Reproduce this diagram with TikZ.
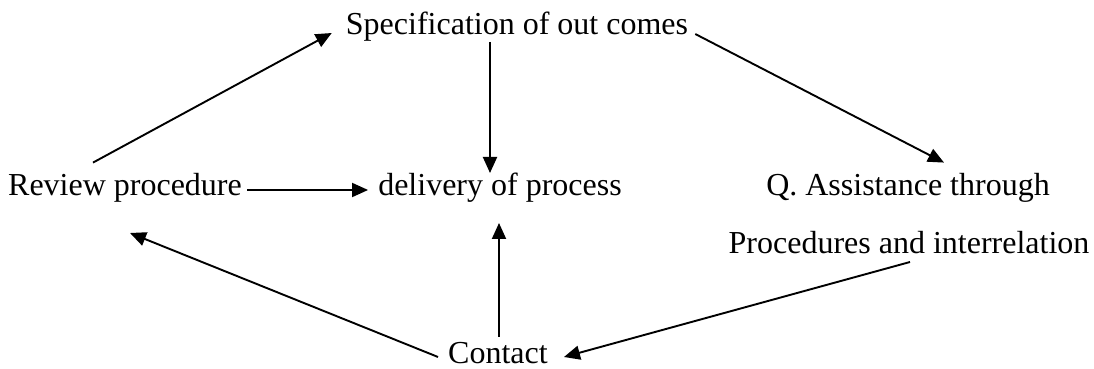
\documentclass[tikz,border=0pt]{standalone}
\usepackage{fontspec}
\setmainfont{Liberation Serif}
\usetikzlibrary{arrows.meta}
\begin{document}
\begin{tikzpicture}[
    x=1pt, y=1pt,
    stage/.style={inner sep=0pt, anchor=base, font=\fontsize{32}{38}\selectfont},
    flow/.style={-{Triangle[length=16pt, width=14pt]}, line width=1.9pt}
]
    \useasboundingbox (0,0) rectangle (1094,369);

    \node[stage] (spec) at (517,334) {Specification of out comes};
    \node[stage] (rev) at (125,173) {Review procedure};
    \node[stage] (deliv) at (500,173) {delivery of process};
    \node[stage] (qa) at (908,173) {Q. Assistance through};
    \node[stage] (proc) at (909,115) {Procedures and interrelation};
    \node[stage] (contact) at (498,5) {Contact};

    \draw[flow] ([shift={(-32,11)}]rev.north) -- ([shift={(-14,2)}]spec.base west);
    \draw[flow] ([shift={(-27,-7)}]spec.base) -- ([shift={(-10,23)}]deliv.base);
    \draw[flow] ([shift={(7,1)}]spec.base east) -- ([shift={(36,11)}]qa.north);
    \draw[flow] ([shift={(5,6)}]rev.base east) -- ([shift={(-10,6)}]deliv.base west);
    \draw[flow] ([shift={(1,27)}]contact.base) -- ([shift={(-1,-27)}]deliv.base);
    \draw[flow] ([shift={(-10,7)}]contact.base west) -- ([shift={(5,-37)}]rev.base);
    \draw[flow] ([shift={(1,-8)}]proc.base) -- ([shift={(16,7)}]contact.base east);
\end{tikzpicture}
\end{document}
